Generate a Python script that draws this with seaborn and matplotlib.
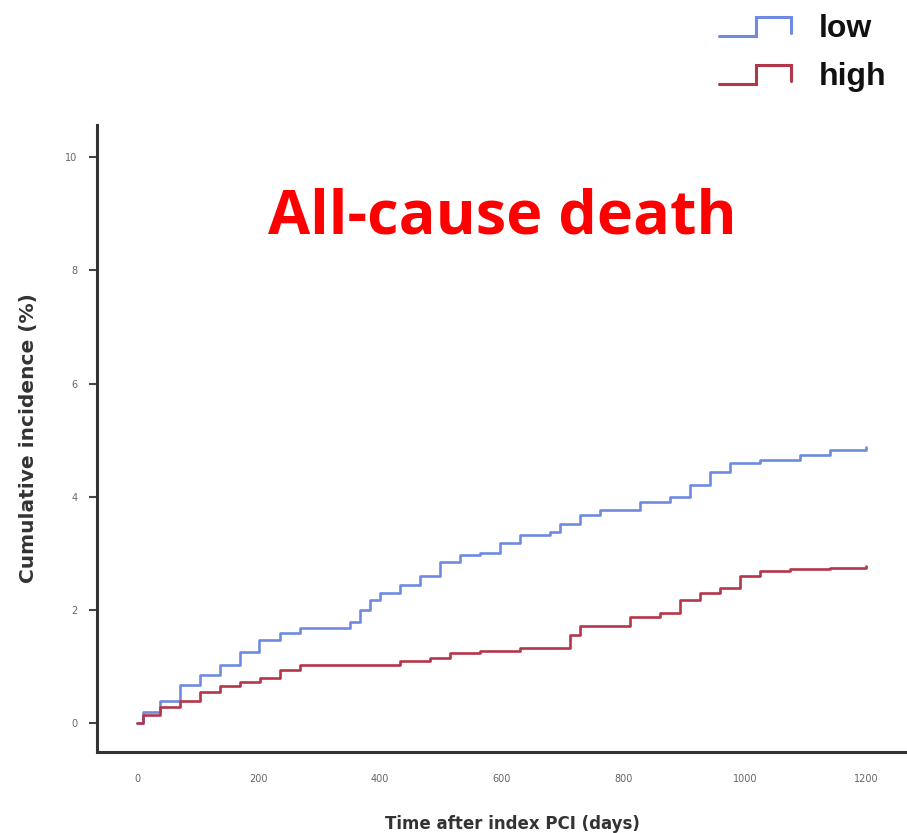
import numpy as np
import pandas as pd
import matplotlib
matplotlib.use("Agg")
import matplotlib.pyplot as plt
import seaborn as sns
from matplotlib.legend_handler import HandlerBase
from matplotlib.lines import Line2D
from matplotlib.font_manager import FontProperties

# ---- data ----
low_days = [0, 10, 38, 71, 104, 137, 170, 200, 235, 268, 318, 350, 367, 384, 400, 433, 466, 499,
            532, 565, 598, 630, 680, 696, 729, 762, 795, 828, 877, 910, 943, 976, 1025, 1058,
            1091, 1141, 1200]
low_inc = [0.0, 0.2, 0.4, 0.67, 0.85, 1.02, 1.25, 1.47, 1.6, 1.68, 1.68, 1.78, 2.0, 2.17, 2.3, 2.44,
           2.6, 2.84, 2.97, 3.0, 3.18, 3.32, 3.37, 3.52, 3.67, 3.76, 3.76, 3.9, 4.0, 4.2, 4.43,
           4.6, 4.65, 4.65, 4.73, 4.82, 4.88]
high_days = [0, 10, 38, 71, 104, 137, 170, 202, 235, 268, 301, 400, 433, 482, 515, 565, 630, 696,
             713, 729, 779, 812, 861, 894, 927, 960, 993, 1025, 1075, 1141, 1200]
high_inc = [0.0, 0.15, 0.28, 0.4, 0.55, 0.65, 0.72, 0.8, 0.94, 1.02, 1.02, 1.02, 1.1, 1.15, 1.24,
            1.28, 1.32, 1.32, 1.55, 1.72, 1.72, 1.87, 1.95, 2.17, 2.3, 2.38, 2.6, 2.68, 2.73,
            2.75, 2.78]
group_labels = ["low", "high"]
group_colors = ["#6f8ae0", "#b3364a"]
y_ticks = [0, 2, 4, 6, 8, 10]
x_ticks = [0, 200, 400, 600, 800, 1000, 1200]

df = pd.concat([
    pd.DataFrame({"days": low_days, "inc": low_inc, "group": group_labels[0]}),
    pd.DataFrame({"days": high_days, "inc": high_inc, "group": group_labels[1]}),
])

sns.set_style("white")
plt.rcParams["font.family"] = ["DejaVu Sans"]

fig = plt.figure(figsize=(9.07, 8.33), dpi=100)
ax = fig.add_axes([97 / 907, 1 - 752 / 833, (927 - 97) / 907, (752 - 125) / 833])

sns.lineplot(data=df, x="days", y="inc", hue="group", palette=group_colors,
             hue_order=group_labels, drawstyle="steps-post", linewidth=1.9,
             ax=ax, legend=False, estimator=None, sort=False)

ax.set_xlim(-66, 1300)
ax.set_ylim(-0.51, 10.57)
ax.set_xticks(x_ticks)
ax.set_yticks(y_ticks)
ax.tick_params(axis="y", length=6, width=1.5, color="#444444", direction="out",
               labelsize=7, labelcolor="#666666", pad=8, left=True)
ax.tick_params(axis="x", length=0, labelsize=7, labelcolor="#666666", pad=16, bottom=True)
for s in ["top", "right"]:
    ax.spines[s].set_visible(False)
for s in ["left", "bottom"]:
    ax.spines[s].set_color("#333333")
    ax.spines[s].set_linewidth(2.2)

ax.set_xlabel("Time after index PCI (days)", fontsize=12, fontweight="bold",
              color="#333333", labelpad=22)
ax.set_ylabel("Cumulative incidence (%)", fontsize=14.5, fontweight="bold",
              color="#333333", labelpad=20)

fig.text(502 / 907, 1 - 218 / 833, "All-cause death", ha="center", va="center",
         color="#ff0000", fontsize=44, fontweight="bold", family=["Open Sans", "DejaVu Sans"])


class StepHandler(HandlerBase):
    def create_artists(self, legend, orig_handle, xdescent, ydescent, width, height,
                       fontsize, trans):
        h = height * 0.85
        y0 = -ydescent + 0.05 * height
        xs = np.array([0, 0.5, 0.5, 0.97, 0.97]) * width - xdescent
        ys = y0 + np.array([0.0, 0.0, 1.0, 1.0, 0.15]) * h
        ln = Line2D(xs, ys, color=orig_handle.get_color(), linewidth=2.2,
                    solid_joinstyle="miter", transform=trans)
        return [ln]


legend_font = FontProperties(family="Liberation Sans", weight="bold", size=23)
handles = [Line2D([], [], color=c) for c in group_colors]
fig.legend(handles, group_labels, loc="upper right", bbox_to_anchor=(0.998, 1.006),
           frameon=False, prop=legend_font, labelcolor="#111111",
           handlelength=2.3, handletextpad=0.8, labelspacing=0.55, borderaxespad=0.2,
           handler_map={Line2D: StepHandler()})

fig.savefig("out.png", dpi=100)
